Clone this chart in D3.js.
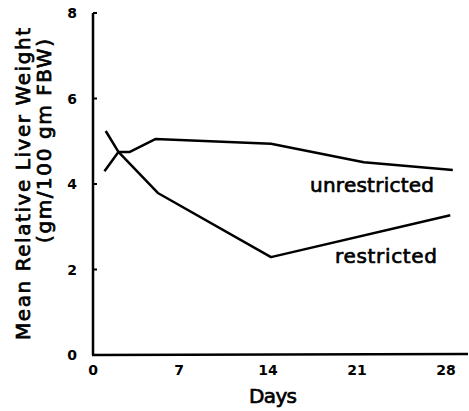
<!DOCTYPE html>
<html><head><meta charset="utf-8">
<script src="https://cdn.jsdelivr.net/npm/d3@7"></script>
<style>body{margin:0;background:#fff}svg{display:block}</style>
</head><body>
<script>
const unrestrictedDays = [0.9, 2, 2.9, 4.9, 14, 21.3, 28.3];
const unrestrictedValues = [4.30, 4.75, 4.75, 5.05, 4.94, 4.51, 4.33];
const restrictedDays = [1.0, 2, 5.1, 14, 28.1];
const restrictedValues = [5.24, 4.75, 3.79, 2.29, 3.27];
const xTicks = [0, 7, 14, 21, 28];
const yTicks = [0, 2, 4, 6, 8];

const W = 469, H = 411;
const svg = d3.select("body").append("svg").attr("width", W).attr("height", H);
const font = "'DejaVu Sans', sans-serif";
const x = d3.scaleLinear().domain([0, 28]).range([93, 449]);
const y = d3.scaleLinear().domain([0, 8]).range([355, 13]);

function label(sel) {
  return sel.attr("font-family", font).attr("font-size", 20)
    .attr("stroke", "#000").attr("stroke-width", 0.7).attr("fill", "#000");
}

// axes lines
svg.append("line").attr("x1", 93).attr("x2", 93).attr("y1", y(8)).attr("y2", y(0))
  .attr("stroke", "#000").attr("stroke-width", 2.5);
svg.append("line").attr("x1", 92).attr("x2", 468).attr("y1", y(0)).attr("y2", y(0) - 1)
  .attr("stroke", "#000").attr("stroke-width", 2.5);

// y ticks
svg.selectAll(".yt").data(yTicks).enter().append("line")
  .attr("x1", 93).attr("x2", 97).attr("y1", d => y(d)).attr("y2", d => y(d))
  .attr("stroke", "#000").attr("stroke-width", 2);
svg.selectAll(".yl").data(yTicks).enter().append("text")
  .attr("x", 72).attr("y", d => y(d) + 5).attr("text-anchor", "middle")
  .attr("font-family", font).attr("font-weight", "bold").attr("font-size", 14)
  .text(d => d);

// x tick labels
svg.selectAll(".xl").data(xTicks).enter().append("text")
  .attr("x", d => x(d) - (d === 0 ? 0 : 3)).attr("y", 375).attr("text-anchor", "middle")
  .attr("font-family", font).attr("font-weight", "bold").attr("font-size", 14)
  .text(d => d);

label(svg.append("text").attr("x", 273).attr("y", 403).attr("text-anchor", "middle")
  .attr("textLength", 48).text("Days"));

// y axis title
label(svg.append("text").attr("transform", "translate(30,184) rotate(-90)")
  .attr("text-anchor", "middle").attr("textLength", 312).attr("lengthAdjust", "spacing")
  .text("Mean Relative  Liver Weight"));
label(svg.append("text").attr("transform", "translate(51,141) rotate(-90)")
  .attr("text-anchor", "middle").attr("textLength", 204).attr("lengthAdjust", "spacing")
  .text("(gm/100 gm FBW)"));

const line = d3.line().x(d => x(d[0])).y(d => y(d[1]));
svg.append("path").datum(d3.zip(unrestrictedDays, unrestrictedValues)).attr("d", line)
  .attr("fill", "none").attr("stroke", "#000").attr("stroke-width", 2.5).attr("stroke-linejoin", "round");
svg.append("path").datum(d3.zip(restrictedDays, restrictedValues)).attr("d", line)
  .attr("fill", "none").attr("stroke", "#000").attr("stroke-width", 2.5).attr("stroke-linejoin", "round");

label(svg.append("text").attr("x", 372).attr("y", 192).attr("text-anchor", "middle")
  .attr("textLength", 124).text("unrestricted"));
label(svg.append("text").attr("x", 386).attr("y", 263).attr("text-anchor", "middle")
  .attr("textLength", 102).text("restricted"));
</script>
</body></html>
